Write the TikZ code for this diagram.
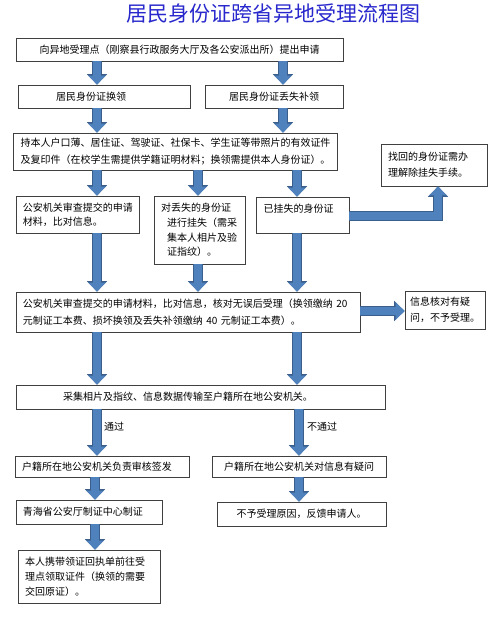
\documentclass[tikz,border=0pt]{standalone}
\usepackage{fontspec}
\setmainfont{Noto Sans CJK SC}
\usetikzlibrary{arrows.meta}
\definecolor{arrowblue}{HTML}{4F81BD}
\definecolor{arrowedge}{HTML}{3A5F8C}
\definecolor{titleblue}{RGB}{40,40,205}
\definecolor{boxedge}{HTML}{404040}
\begin{document}
\begin{tikzpicture}[x=1pt,y=-1pt,
  ttl/.style={font=\fontsize{21}{21}\selectfont, text=titleblue, inner sep=0pt},
  cbox/.style={draw=boxedge, line width=0.8pt, fill=white, inner xsep=7pt, inner ysep=0pt, align=center, font=\fontsize{10}{14}\selectfont},
  lbox/.style={draw=boxedge, line width=0.8pt, fill=white, inner xsep=7pt, inner ysep=0pt, align=left, font=\fontsize{10}{14}\selectfont},
  lbl/.style={font=\fontsize{10}{12}\selectfont, inner sep=0pt},
  barrow/.style={line width=8pt, draw=arrowblue, line join=miter,
    -{Triangle[width=17pt,length=9pt]},
    preaction={draw=arrowedge, line width=9.4pt, -{Triangle[width=19.5pt,length=10.4pt]}}}
]
\fill[white] (0,0) rectangle (500,618);
\useasboundingbox (0,0) rectangle (500,618);

\node[ttl] (title) at (273.5,14) {居民身份证跨省异地受理流程图};

\node[cbox, minimum width=327, minimum height=23] (apply) at (179.5,49.5) {向异地受理点（刚察县行政服务大厅及各公安派出所）提出申请};
\node[lbox, text width=158, minimum height=23] (renew) at (104,96.5) {\hspace*{31pt}居民身份证换领};
\node[cbox, minimum width=138, minimum height=23] (lost) at (274,96.5) {居民身份证丢失补领};
\node[lbox, minimum width=319, minimum height=37, font=\fontsize{10}{17.4}\selectfont] (docs) at (175.5,151.5) {持本人户口薄、居住证、驾驶证、社保卡、学生证等带照片的有效证件\\及复印件（在校学生需提供学籍证明材料；换领需提供本人身份证）。};
\node[lbox, text width=92, minimum height=42, font=\fontsize{10}{16}\selectfont] (found) at (434,165) {找回的身份证需办\\理解除挂失手续。};
\node[lbox, text width=109, minimum height=37] (review) at (77.5,214.5) {公安机关审查提交的申请\\材料，比对信息。};
\node[lbox, text width=77, minimum height=68, font=\fontsize{10}{14.7}\selectfont] (report) at (199.5,230) {对丢失的身份证\\\hspace*{6pt}进行挂失（需采\\\hspace*{6pt}集本人相片及验\\\hspace*{6pt}证指纹）。};
\node[lbox, text width=78, inner xsep=7.5pt, minimum height=36] (reported) at (302.5,215) {已挂失的身份证\\\mbox{}};
\node[lbox, text width=330, minimum height=40, font=\fontsize{10}{17}\selectfont] (accept) at (188,312) {公安机关审查提交的申请材料，比对信息，核对无误后受理（换领缴纳 20\\元制证工本费、损坏换领及丢失补领缴纳 40 元制证工本费）。};
\node[lbox, text width=70, inner xsep=5pt, minimum height=38, font=\fontsize{10}{16}\selectfont] (doubt) at (445,310) {信息核对有疑\\问，不予受理。};
\node[lbox, text width=355, minimum height=24] (collect) at (200.5,397) {\hspace*{40pt}采集相片及指纹、信息数据传输至户籍所在地公安机关。};
\node[lbox, text width=160, minimum height=21] (sign) at (102,466.5) {户籍所在地公安机关负责审核签发};
\node[cbox, minimum width=174, minimum height=21] (query) at (299,466.5) {户籍所在地公安机关对信息有疑问};
\node[lbox, text width=132, minimum height=24] (make) at (89,512) {青海省公安厅制证中心制证};
\node[cbox, minimum width=169, minimum height=24] (refuse) at (301.5,514) {不予受理原因，反馈申请人。};
\node[lbox, text width=128, minimum height=53, font=\fontsize{10}{15}\selectfont] (pickup) at (89,576.5) {本人携带领证回执单前往受\\理点领取证件（换领的需要\\交回原证）。};

\node[lbl] (pass) at (114,427) {通过};
\node[lbl] (fail) at (322,427) {不通过};

\coordinate (xL) at (97,0);
\coordinate (xLb) at (95,0);
\coordinate (xM) at (198,0);
\coordinate (xR) at (283,0);
\coordinate (xRb) at (297,0);
\coordinate (xRc) at (299,0);
\coordinate (xE) at (438,0);
\coordinate (yE) at (0,216);
\coordinate (yQ) at (0,311);

\draw[barrow] (apply.south -| xL) -- (renew.north -| xL);
\draw[barrow] (apply.south -| xR) -- (lost.north -| xR);
\draw[barrow] (renew.south -| xL) -- (docs.north -| xL);
\draw[barrow] (lost.south -| xR) -- (docs.north -| xR);
\draw[barrow] (docs.south -| xL) -- (review.north -| xL);
\draw[barrow] (docs.south -| xM) -- (report.north -| xM);
\draw[barrow] (docs.south -| xRb) -- (reported.north -| xRb);
\draw[barrow] (reported.east |- yE) -| (found.south -| xE);
\draw[barrow] (review.south -| xL) -- (accept.north -| xL);
\draw[barrow] (report.south -| xM) -- (accept.north -| xM);
\draw[barrow] (reported.south -| xRb) -- (accept.north -| xRb);
\draw[barrow] (accept.east |- yQ) -- (doubt.west |- yQ);
\draw[barrow] (accept.south -| xL) -- (collect.north -| xL);
\draw[barrow] (accept.south -| xRb) -- (collect.north -| xRb);
\draw[barrow] (collect.south -| xL) -- (sign.north -| xL);
\draw[barrow] (collect.south -| xRc) -- (query.north -| xRc);
\draw[barrow] (sign.south -| xLb) -- (make.north -| xLb);
\draw[barrow] (query.south -| xRc) -- (refuse.north -| xRc);
\draw[barrow] (make.south -| xLb) -- (pickup.north -| xLb);
\end{tikzpicture}
\end{document}
